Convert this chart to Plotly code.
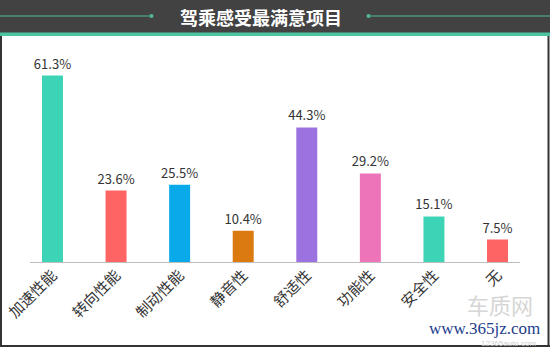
import plotly.graph_objects as go

# Survey: most satisfying aspects of the ride experience
categories = ["加速性能", "转向性能", "制动性能", "静音性", "舒适性", "功能性", "安全性", "无"]
values = [61.3, 23.6, 25.5, 10.4, 44.3, 29.2, 15.1, 7.5]
bar_colors = ["#3dd3b6", "#fe6464", "#0aaaea", "#da7a10", "#9c72e0", "#ee74b9", "#3dd3b6", "#fe6464"]
title_text = "驾乘感受最满意项目"

W, H = 550, 347


def px_x(x):
    return x / W


def px_y(y):
    return 1 - y / H


fig = go.Figure(
    go.Bar(
        x=categories,
        y=values,
        marker=dict(color=bar_colors, line=dict(width=0)),
        text=[f"{v:.1f}%" for v in values],
        textposition="outside",
        constraintext="none",
        textfont=dict(size=13, color="#333333", family="Noto Sans CJK SC"),
        cliponaxis=False,
        hoverinfo="skip",
    )
)

fig.update_layout(
    width=W,
    height=H,
    margin=dict(l=0, r=0, t=0, b=0, autoexpand=False),
    paper_bgcolor="white",
    plot_bgcolor="white",
    bargap=0.67,
    showlegend=False,
    font=dict(family="Noto Sans CJK SC", color="#333333"),
    xaxis=dict(
        domain=[px_x(20.7), px_x(529.3)],
        range=[-0.5, len(categories) - 0.5],
        automargin=False,
        tickangle=-45,
        tickfont=dict(size=15, color="#333333", family="Noto Sans CJK SC"),
        showline=False,
        showgrid=False,
        ticks="",
        fixedrange=True,
    ),
    yaxis=dict(
        domain=[px_y(262.5), px_y(49)],
        range=[0, 70],
        visible=False,
        automargin=False,
        fixedrange=True,
    ),
)

shapes = [
    # header band and its teal stripe
    dict(type="rect", xref="paper", yref="paper", x0=0, x1=1, y0=px_y(33), y1=1,
         fillcolor="#424242", line=dict(width=0), layer="below"),
    dict(type="rect", xref="paper", yref="paper", x0=0, x1=1, y0=px_y(36), y1=px_y(32.5),
         fillcolor="#4cc4a2", line=dict(width=0), layer="below"),
    # decorative rules either side of the title
    dict(type="line", xref="paper", yref="paper", x0=0, x1=px_x(152), y0=px_y(16), y1=px_y(16),
         line=dict(color="#4fb99b", width=1.2)),
    dict(type="line", xref="paper", yref="paper", x0=px_x(368), x1=1, y0=px_y(16), y1=px_y(16),
         line=dict(color="#4fb99b", width=1.2)),
    dict(type="circle", xref="paper", yref="paper", x0=px_x(149.5), x1=px_x(153.5),
         y0=px_y(18), y1=px_y(14), fillcolor="#4fb99b", line=dict(width=0)),
    dict(type="circle", xref="paper", yref="paper", x0=px_x(366.5), x1=px_x(370.5),
         y0=px_y(18), y1=px_y(14), fillcolor="#4fb99b", line=dict(width=0)),
    # baseline of the bars
    dict(type="line", xref="paper", yref="paper", x0=px_x(30), x1=px_x(520),
         y0=px_y(262.5), y1=px_y(262.5), line=dict(color="#bdbdbd", width=1)),
    # frame around the chart body
    dict(type="line", xref="paper", yref="paper", x0=px_x(1), x1=px_x(1), y0=0, y1=px_y(36),
         line=dict(color="#333333", width=2)),
    dict(type="line", xref="paper", yref="paper", x0=px_x(548.5), x1=px_x(548.5), y0=0, y1=px_y(36),
         line=dict(color="#333333", width=2)),
    dict(type="line", xref="paper", yref="paper", x0=0, x1=1, y0=px_y(346), y1=px_y(346),
         line=dict(color="#333333", width=2)),
]
fig.update_layout(shapes=shapes)

annotations = [
    dict(text=f"<b>{title_text}</b>", x=px_x(261), y=px_y(17), xref="paper", yref="paper",
         showarrow=False, xanchor="center", yanchor="middle",
         font=dict(size=18, color="white", family="Noto Sans CJK SC")),
    dict(text="车质网", x=px_x(500), y=px_y(304), xref="paper", yref="paper",
         showarrow=False, xanchor="center", yanchor="middle",
         font=dict(size=22, color="#d6d6d6", family="Noto Sans CJK SC")),
    dict(text="www.365jz.com", x=px_x(542), y=px_y(328), xref="paper", yref="paper",
         showarrow=False, xanchor="right", yanchor="middle",
         font=dict(size=17, color="#1d3d8c", family="Liberation Serif")),
    dict(text="12365auto.com", x=px_x(538), y=px_y(343), xref="paper", yref="paper",
         showarrow=False, xanchor="right", yanchor="middle",
         font=dict(size=8, color="#d0d0d0", family="Liberation Sans")),
]
fig.update_layout(annotations=annotations)

fig.write_html("out.html", config={"displayModeBar": False})
